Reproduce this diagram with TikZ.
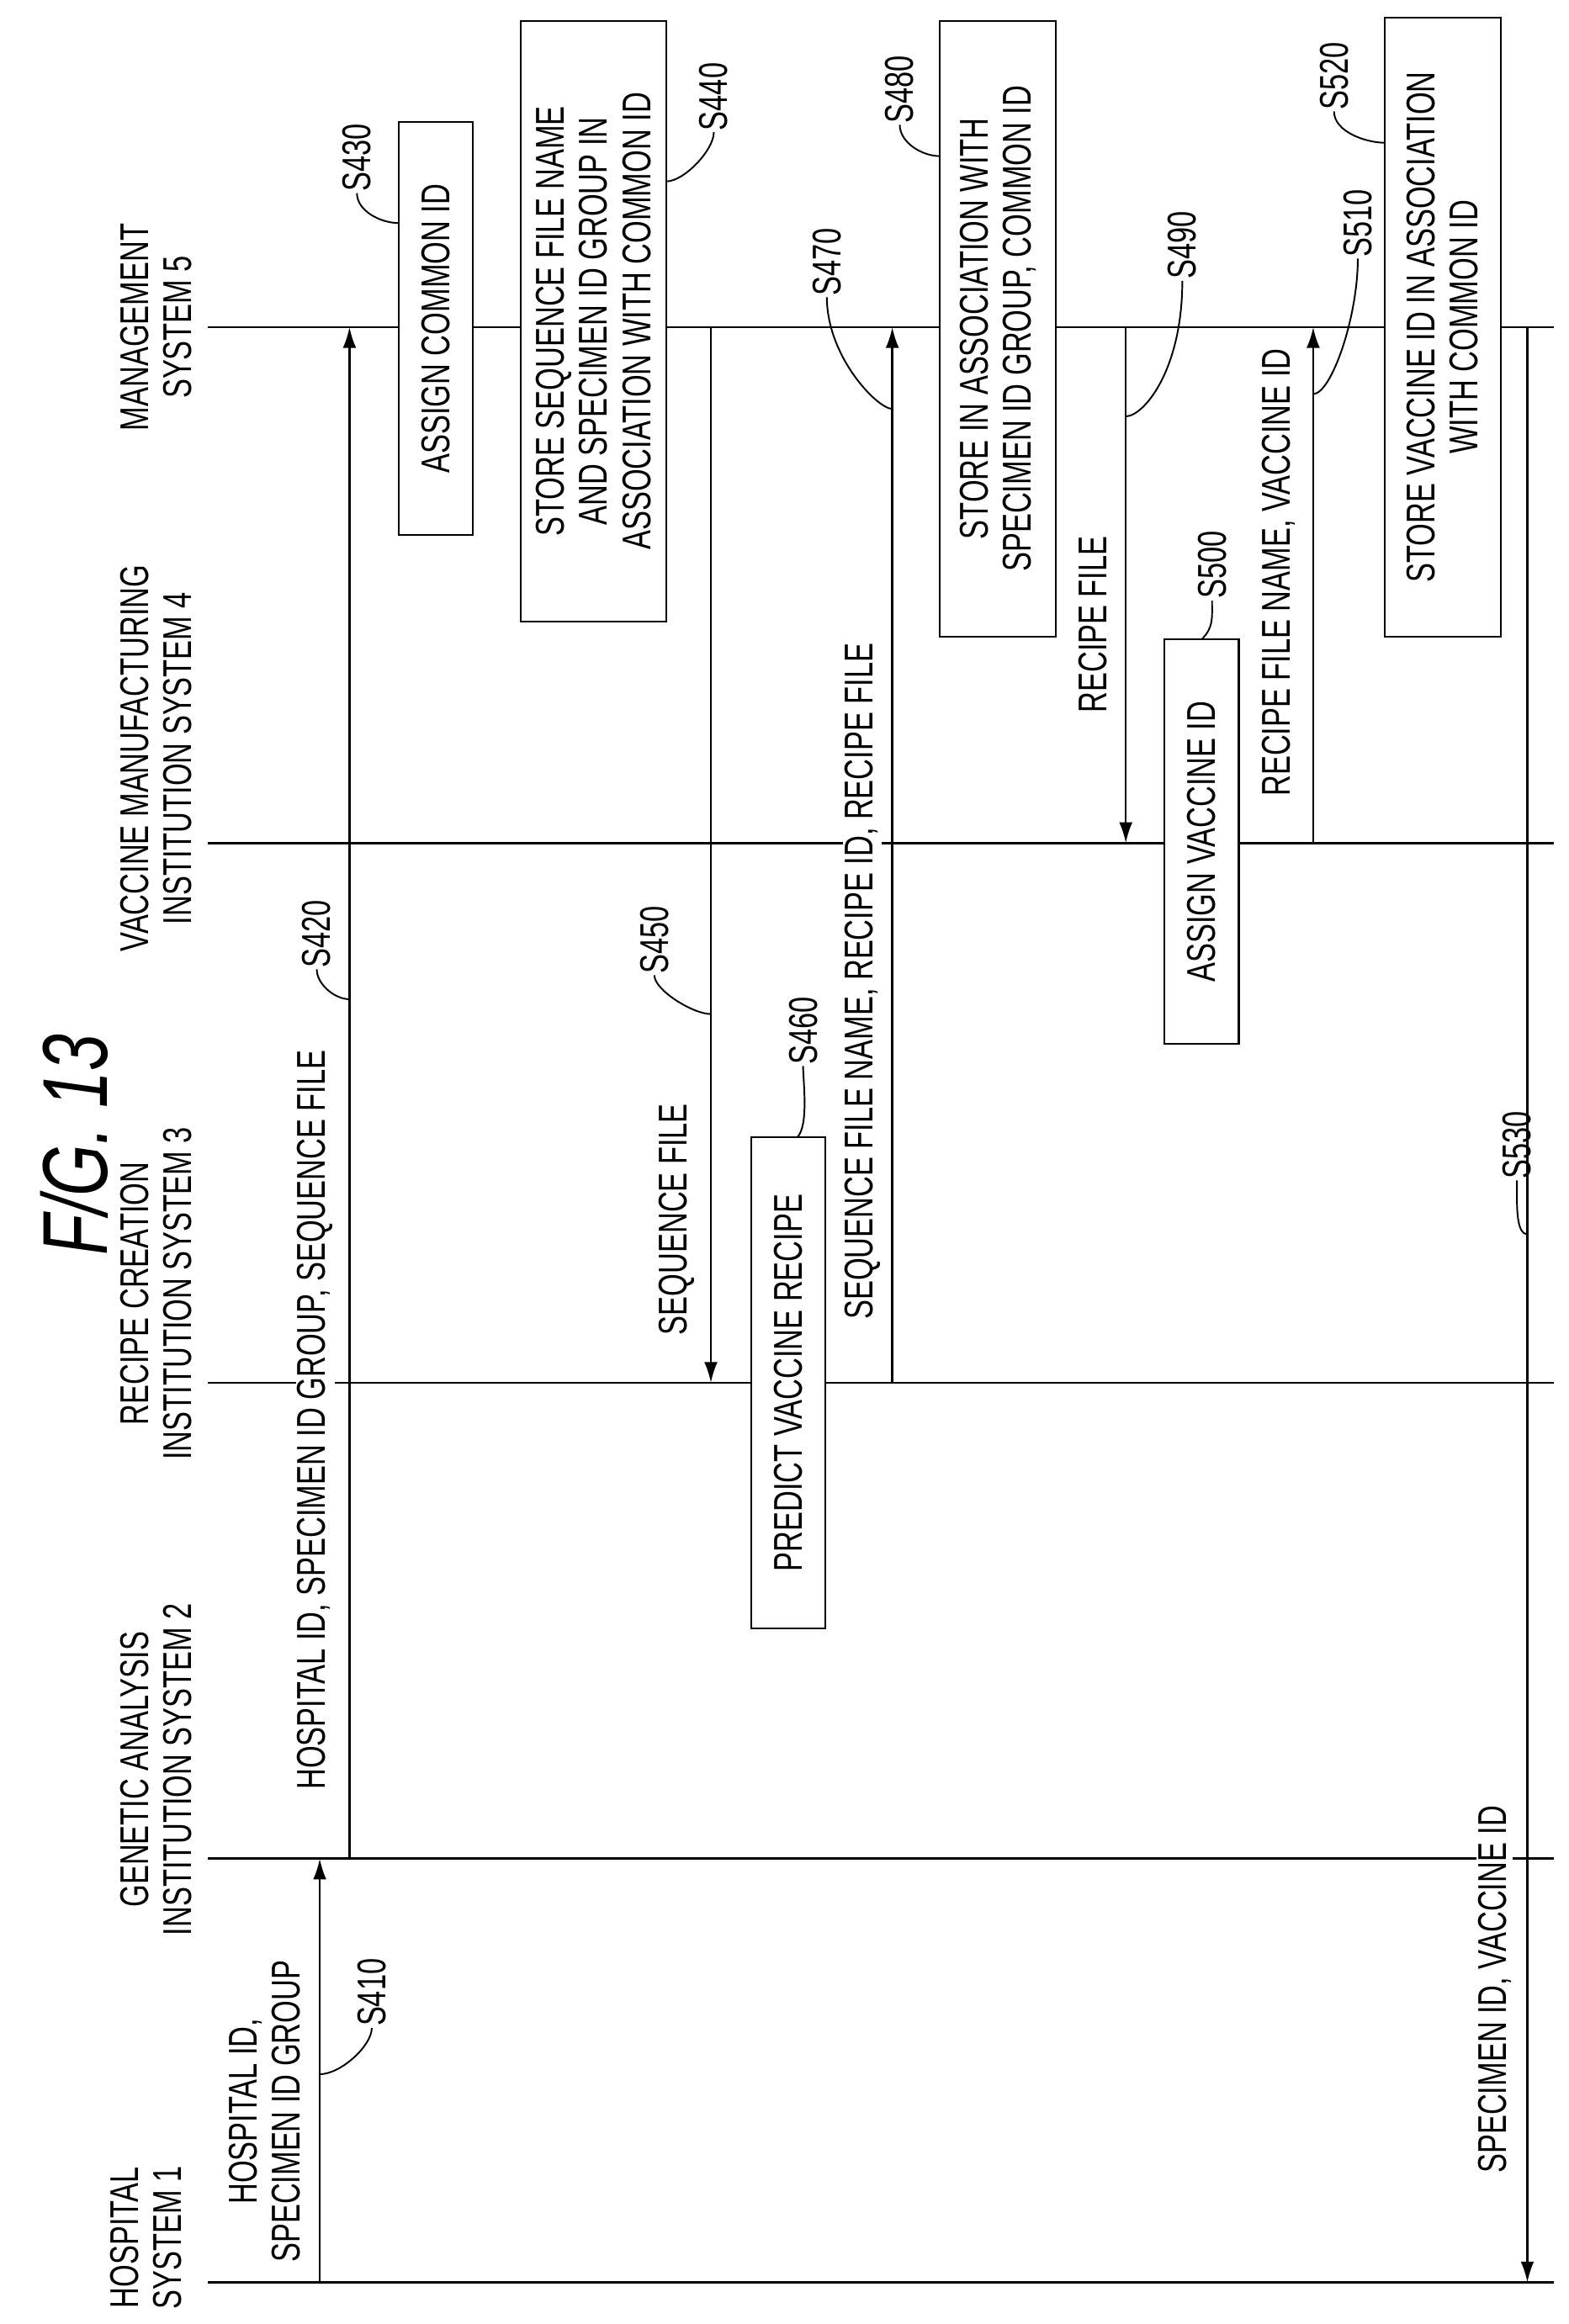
\documentclass[tikz,border=0pt]{standalone}
\usepackage{fontspec}
\setmainfont[FakeStretch=0.72]{Liberation Sans}
\usetikzlibrary{arrows.meta}

\begin{document}
\begin{tikzpicture}[x=1pt,y=1pt,yscale=-1,
  txt/.style={rotate=90,font=\fontsize{27}{29}\selectfont,inner sep=1pt,align=center},
  msg/.style={txt,fill=white},
  stepbox/.style={txt,draw,line width=1.2pt,fill=white,inner sep=8pt},
  life/.style={line width=1.4pt},
  arr/.style={line width=1.4pt,-{Latex[length=14pt,width=9pt]}},
  lead/.style={line width=1.1pt}]
\useasboundingbox (0,0) rectangle (1055,1563);

% title
\node[rotate=90,font=\fontsize{62}{64}\selectfont\itshape] (fig) at (50,770) {F/G. 13};

% lifelines
\draw[life] (140,1535) -- (1045,1535);
\draw[life] (140,1250) -- (1045,1250);
\draw[life] (140,930) -- (1045,930);
\draw[life] (140,567) -- (1045,567);
\draw[life] (140,220) -- (1045,220);

% system names
\node[txt] (sys1) at (98,1505) {HOSPITAL\\SYSTEM 1};
\node[txt] (sys2) at (105,1190) {GENETIC ANALYSIS\\INSTITUTION SYSTEM 2};
\node[txt] (sys3) at (105,870) {RECIPE CREATION\\INSTITUTION SYSTEM 3};
\node[txt] (sys4) at (105,510) {VACCINE MANUFACTURING\\INSTITUTION SYSTEM 4};
\node[txt] (sys5) at (105,220) {MANAGEMENT\\SYSTEM 5};

% boxes
\node[stepbox,minimum width=278pt,minimum height=50pt] (b430) at (293,221) {ASSIGN COMMON ID};
\node[stepbox,minimum width=404pt,minimum height=98pt] (b440) at (399,216) {STORE SEQUENCE FILE NAME\\AND SPECIMEN ID GROUP IN\\ASSOCIATION WITH COMMON ID};
\node[stepbox,minimum width=330pt,minimum height=50pt] (b460) at (530,930) {PREDICT VACCINE RECIPE};
\node[stepbox,minimum width=414pt,minimum height=78pt] (b480) at (671,221) {STORE IN ASSOCIATION WITH\\SPECIMEN ID GROUP, COMMON ID};
\node[stepbox,minimum width=272pt,minimum height=50pt] (b500) at (808,566) {ASSIGN VACCINE ID};
\node[stepbox,minimum width=416pt,minimum height=78pt] (b520) at (970,220) {STORE VACCINE ID IN ASSOCIATION\\WITH COMMON ID};

% arrows
\coordinate (a410s) at (215,1535); \coordinate (a410e) at (215,1250);
\coordinate (a420s) at (235,1250); \coordinate (a420e) at (235,220);
\coordinate (a450s) at (478,220);  \coordinate (a450e) at (478,930);
\coordinate (a470s) at (600,930);  \coordinate (a470e) at (600,220);
\coordinate (a490s) at (757,220);  \coordinate (a490e) at (757,567);
\coordinate (a510s) at (883,567);  \coordinate (a510e) at (883,220);
\coordinate (a530s) at (1027,220); \coordinate (a530e) at (1027,1535);
\draw[arr] (a410s) -- (a410e);
\draw[arr] (a420s) -- (a420e);
\draw[arr] (a450s) -- (a450e);
\draw[arr] (a470s) -- (a470e);
\draw[arr] (a490s) -- (a490e);
\draw[arr] (a510s) -- (a510e);
\draw[arr] (a530s) -- (a530e);

% message labels
\node[msg] (m410) at (178,1420) {HOSPITAL ID,\\SPECIMEN ID GROUP};
\node[msg] (m420) at (212,955) {HOSPITAL ID, SPECIMEN ID GROUP, SEQUENCE FILE};
\node[msg] (m450) at (455,820) {SEQUENCE FILE};
\node[msg] (m470) at (580,660) {SEQUENCE FILE NAME, RECIPE ID, RECIPE FILE};
\node[msg] (m490) at (735,420) {RECIPE FILE};
\node[msg] (m510) at (860,385) {RECIPE FILE NAME, VACCINE ID};
\node[msg] (m530) at (1005,1338) {SPECIMEN ID, VACCINE ID};

% step labels
\node[txt] (s410) at (250,1340) {S410};
\node[txt] (s420) at (213,628) {S420};
\node[txt] (s430) at (240,106) {S430};
\node[txt] (s440) at (480,65) {S440};
\node[txt] (s450) at (440,632) {S450};
\node[txt] (s460) at (540,693) {S460};
\node[txt] (s470) at (556,176) {S470};
\node[txt] (s480) at (605,60) {S480};
\node[txt] (s490) at (795,165) {S490};
\node[txt] (s500) at (815,380) {S500};
\node[txt] (s510) at (913,150) {S510};
\node[txt] (s520) at (897,51) {S520};
\node[txt] (s530) at (1020,770) {S530};

% leaders
\draw[lead] (s410.west) .. controls +(0,12) and +(14,0) .. (215,1395);
\draw[lead] (s420.west) .. controls +(0,10) and +(-10,0) .. (235,672);
\draw[lead] (s430.west) .. controls +(0,12) and +(-12,0) .. (268,150);
\draw[lead] (s440.west) .. controls +(0,12) and +(12,0) .. (448,122);
\draw[lead] (s450.west) .. controls +(0,10) and +(-12,0) .. (478,682);
\draw[lead] (s460.west) .. controls +(0,10) and +(8,-8) .. (536,765);
\draw[lead] (s470.west) .. controls +(0,40) and +(-10,0) .. (600,275);
\draw[lead] (s480.west) .. controls +(0,12) and +(-12,0) .. (632,105);
\draw[lead] (s490.west) .. controls +(0,60) and +(12,0) .. (757,280);
\draw[lead] (s500.west) .. controls +(0,12) and +(8,-8) .. (808,430);
\draw[lead] (s510.west) .. controls +(0,40) and +(12,0) .. (883,265);
\draw[lead] (s520.west) .. controls +(0,14) and +(-12,0) .. (931,96);
\draw[lead] (s530.west) .. controls +(0,15) and +(-8,0) .. (1027,830);
\end{tikzpicture}
\end{document}
